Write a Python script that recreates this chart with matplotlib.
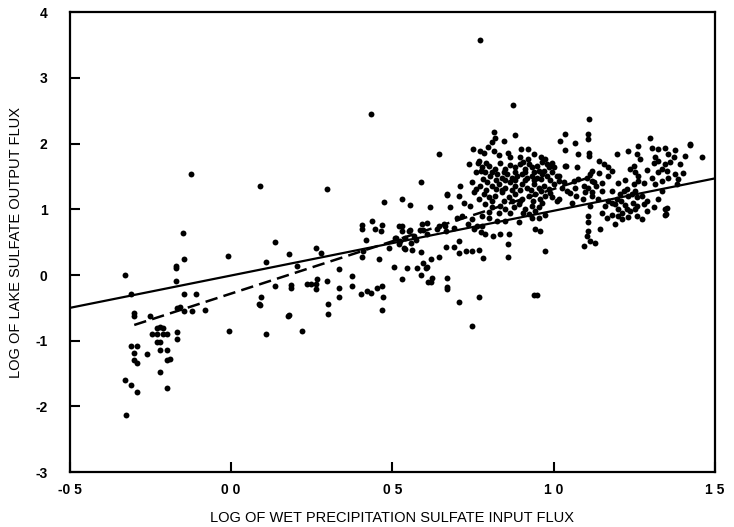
import matplotlib
matplotlib.use("Agg")
import matplotlib.pyplot as plt

# data (log wet input flux, log lake output flux)
left_pts = [
    (-0.33, 0.00), (-0.31, -0.29), (-0.30, -0.58), (-0.30, -0.62), (-0.25, -0.62),
    (-0.31, -1.08), (-0.29, -1.08), (-0.30, -1.19), (-0.30, -1.30), (-0.29, -1.34),
    (-0.33, -1.60), (-0.31, -1.68), (-0.29, -1.78), (-0.325, -2.13), (-0.26, -1.20),
    (-0.23, -0.81), (-0.22, -0.79), (-0.21, -0.81), (-0.245, -0.90), (-0.23, -0.90),
    (-0.21, -0.90), (-0.20, -0.90), (-0.23, -1.02), (-0.22, -1.02), (-0.22, -1.14),
    (-0.20, -1.14), (-0.20, -1.30), (-0.19, -1.28), (-0.22, -1.48), (-0.20, -1.72),
    (-0.17, 0.14), (-0.17, 0.11), (-0.145, 0.24), (-0.17, -0.09), (-0.145, -0.29),
    (-0.11, -0.29), (-0.167, -0.50), (-0.158, -0.49), (-0.145, -0.55), (-0.12, -0.55),
    (-0.08, -0.53), (-0.167, -0.87), (-0.167, -0.98), (-0.124, 1.54), (-0.149, 0.64),
    (-0.01, 0.29), (-0.006, -0.85), (0.087, -0.44),
]

low_pts = [
    (0.09, 1.36), (0.136, 0.50), (0.108, 0.20), (0.18, 0.32), (0.136, -0.17),
    (0.186, -0.15), (0.186, -0.20), (0.204, 0.14), (0.093, -0.34), (0.09, -0.46),
    (0.176, -0.63), (0.108, -0.90), (0.22, -0.85), (0.235, -0.14), (0.297, 1.31),
    (0.263, 0.41), (0.279, 0.34), (0.334, 0.09), (0.297, -0.09), (0.266, -0.06),
    (0.263, -0.14), (0.263, -0.21), (0.248, -0.14), (0.30, -0.44), (0.30, -0.59),
    (0.18, -0.61),
]

mid_pts = [
    (0.433, 2.45), (0.771, 3.57), (0.873, 2.59),
    (0.588, 1.42), (0.474, 1.11), (0.53, 1.16), (0.554, 1.07), (0.616, 1.04), (0.669, 1.22),
    (0.406, 0.76), (0.406, 0.70), (0.437, 0.82), (0.446, 0.70), (0.467, 0.76), (0.464, 0.67),
    (0.418, 0.53), (0.409, 0.37), (0.406, 0.27), (0.458, 0.24),
    (0.489, 0.41), (0.508, 0.56), (0.523, 0.52), (0.529, 0.75), (0.551, 0.67), (0.585, 0.69),
    (0.591, 0.78), (0.607, 0.79), (0.536, 0.41), (0.56, 0.38), (0.588, 0.35),
    (0.505, 0.12), (0.545, 0.11), (0.576, 0.11), (0.604, 0.11), (0.588, 0.0), (0.529, -0.06),
    (0.61, -0.11), (0.375, -0.02), (0.334, -0.20), (0.334, -0.34), (0.375, -0.17),
    (0.402, -0.29), (0.421, -0.24), (0.433, -0.27), (0.452, -0.20), (0.467, -0.17),
    (0.471, -0.34), (0.467, -0.53),
    (0.52, 0.75), (0.53, 0.67), (0.539, 0.56), (0.554, 0.69), (0.594, 0.69), (0.607, 0.63),
    (0.638, 0.70), (0.663, 0.75), (0.666, 0.67),
    (0.511, 0.56), (0.52, 0.47), (0.539, 0.40), (0.557, 0.49), (0.573, 0.53), (0.567, 0.59),
    (0.607, 0.12), (0.619, 0.24), (0.644, 0.27), (0.594, 0.18), (0.622, -0.05), (0.619, -0.11),
    (0.669, -0.05), (0.669, -0.18), (0.669, -0.21),
]

dense_pts = [
    (0.814, 2.17), (0.819, 2.09), (0.879, 2.13), (0.847, 2.04), (0.809, 2.02), (1.019, 2.04),
    (0.750, 1.92), (0.773, 1.88), (0.796, 1.95), (0.814, 1.89), (0.900, 1.92), (0.921, 1.92),
    (0.644, 1.84), (0.866, 1.79), (0.897, 1.79), (0.921, 1.76), (0.974, 1.76),
    (0.737, 1.69), (0.768, 1.73), (0.778, 1.64), (0.799, 1.66), (0.819, 1.61), (0.850, 1.61),
    (0.881, 1.64), (0.897, 1.69), (0.912, 1.61), (0.933, 1.64), (0.948, 1.66), (0.954, 1.59),
    (0.979, 1.69), (0.995, 1.71), (1.000, 1.64), (1.036, 1.66),
    (0.758, 1.56), (0.788, 1.56), (0.804, 1.51), (0.825, 1.53), (0.840, 1.48), (0.856, 1.53),
    (0.871, 1.48), (0.887, 1.51), (0.902, 1.53), (0.917, 1.48), (0.933, 1.51), (0.948, 1.48),
    (0.964, 1.53), (0.979, 1.51), (0.995, 1.56), (1.010, 1.51), (1.016, 1.43),
    (0.711, 1.36), (0.747, 1.41), (0.773, 1.36), (0.794, 1.41), (0.809, 1.36), (0.830, 1.38),
    (0.850, 1.33), (0.866, 1.41), (0.881, 1.36), (0.902, 1.38), (0.917, 1.33), (0.938, 1.38),
    (0.954, 1.33), (0.969, 1.36), (0.985, 1.31), (1.000, 1.38), (1.026, 1.33),
    (0.670, 1.23), (0.706, 1.20), (0.752, 1.26), (0.783, 1.23), (0.799, 1.18), (0.819, 1.20),
    (0.840, 1.26), (0.861, 1.18), (0.881, 1.23), (0.902, 1.15), (0.923, 1.20), (0.943, 1.23),
    (0.959, 1.15), (0.974, 1.20), (0.995, 1.18), (1.010, 1.13),
    (0.721, 1.10), (0.680, 1.03), (0.742, 1.05), (0.788, 1.08), (0.809, 1.03), (0.835, 1.05),
    (0.850, 1.00), (0.876, 1.03), (0.892, 1.08), (0.912, 1.00), (0.933, 1.05), (0.954, 1.03),
    (0.974, 0.92), (0.943, 0.98),
    (0.701, 0.87), (0.716, 0.90), (0.747, 0.85), (0.778, 0.90), (0.799, 0.87), (0.825, 0.82),
    (0.850, 0.82), (0.892, 0.80), (0.933, 0.87), (0.954, 0.87),
    (0.659, 0.77), (0.644, 0.75), (0.690, 0.72), (0.735, 0.77), (0.763, 0.75), (0.778, 0.75),
    (0.752, 0.70), (0.776, 0.66), (0.788, 0.62), (0.811, 0.59), (0.835, 0.63), (0.861, 0.63),
    (0.943, 0.70), (0.959, 0.67),
    (0.667, 0.42), (0.690, 0.43), (0.706, 0.52), (0.706, 0.34), (0.727, 0.37), (0.747, 0.37),
    (0.768, 0.38), (0.780, 0.26), (0.859, 0.47), (0.859, 0.27), (0.974, 0.37),
    (0.706, -0.41), (0.768, -0.34), (0.746, -0.78), (0.938, -0.30), (0.947, -0.30),
]

# overlapping dots inside the black core of the main cluster
dense_core = [
    (0.785, 1.85), (0.83, 1.83), (0.86, 1.86), (0.94, 1.84), (0.96, 1.80),
    (0.765, 1.70), (0.79, 1.71), (0.835, 1.70), (0.865, 1.67), (0.905, 1.72), (0.925, 1.69),
    (0.965, 1.72), (0.985, 1.64),
    (0.775, 1.58), (0.81, 1.57), (0.845, 1.57), (0.88, 1.56), (0.91, 1.56), (0.94, 1.56),
    (0.97, 1.58),
    (0.78, 1.46), (0.82, 1.45), (0.85, 1.44), (0.88, 1.44), (0.91, 1.45), (0.94, 1.44),
    (0.96, 1.46), (0.99, 1.45),
    (0.76, 1.31), (0.79, 1.30), (0.82, 1.31), (0.84, 1.30), (0.87, 1.30), (0.895, 1.30),
    (0.93, 1.29), (0.96, 1.28), (0.99, 1.25),
    (0.77, 1.16), (0.81, 1.13), (0.845, 1.12), (0.87, 1.12), (0.895, 1.12), (0.935, 1.12),
    (0.965, 1.10),
    (0.80, 0.96), (0.83, 0.95), (0.865, 0.94), (0.905, 0.95), (0.925, 0.93),
]

right_pts = [
    (1.111, 2.37), (1.036, 2.15), (1.065, 2.01), (1.034, 1.90), (1.106, 2.15), (1.106, 2.07),
    (1.110, 1.86), (1.110, 1.81), (1.075, 1.84), (1.038, 1.66), (1.072, 1.64),
    (1.141, 1.74), (1.155, 1.69), (1.170, 1.64), (1.181, 1.59),
    (1.196, 1.84), (1.232, 1.89), (1.263, 1.97), (1.258, 1.84), (1.268, 1.76), (1.248, 1.66),
    (1.237, 1.61), (1.253, 1.56), (1.263, 1.51), (1.263, 1.43), (1.248, 1.38), (1.253, 1.28),
    (1.300, 2.09),
    (1.304, 1.94), (1.325, 1.92), (1.346, 1.94), (1.377, 1.90), (1.356, 1.84), (1.315, 1.79),
    (1.325, 1.74), (1.346, 1.69), (1.335, 1.61), (1.325, 1.56), (1.351, 1.59), (1.372, 1.79),
    (1.392, 1.69), (1.406, 1.81), (1.423, 1.98), (1.377, 1.53), (1.304, 1.48), (1.315, 1.38),
    (1.335, 1.43), (1.335, 1.28), (1.356, 1.48), (1.382, 1.39), (1.387, 1.46),
    (1.424, 2.00), (1.461, 1.80),
    (1.119, 1.59), (1.114, 1.53), (1.103, 1.48), (1.119, 1.43), (1.124, 1.41),
    (1.016, 1.51), (1.031, 1.41), (1.041, 1.28), (1.062, 1.43), (1.067, 1.33), (1.077, 1.46),
    (1.093, 1.36), (1.098, 1.26), (1.108, 1.33), (1.119, 1.26), (1.119, 1.20), (1.150, 1.28),
    (1.057, 1.10), (1.016, 1.15), (1.114, 1.05), (1.139, 1.15), (1.170, 1.13), (1.181, 1.28),
    (1.196, 1.15), (1.206, 1.23), (1.217, 1.28), (1.227, 1.31), (1.232, 1.20), (1.243, 1.24),
    (1.258, 1.18), (1.274, 1.20), (1.289, 1.13), (1.310, 1.03), (1.325, 1.15), (1.346, 1.00),
    (1.191, 1.08), (1.201, 1.00), (1.212, 0.95), (1.227, 1.00), (1.237, 0.98), (1.253, 1.00),
    (1.258, 0.90), (1.274, 0.85), (1.181, 0.92), (1.165, 0.87), (1.150, 0.95), (1.191, 0.77),
    (1.212, 0.85), (1.346, 0.92), (1.353, 1.02), (1.347, 0.93),
    (1.106, 0.90), (1.108, 0.80), (1.108, 0.67), (1.103, 0.59), (1.114, 0.52), (1.093, 0.44),
    (1.129, 0.49), (1.145, 0.70),
    (1.16, 1.05), (1.18, 1.10), (1.21, 1.12), (1.22, 1.06), (1.245, 1.10), (1.26, 1.05),
    (1.28, 1.08), (1.29, 0.98), (1.20, 0.90), (1.23, 0.88), (1.15, 1.40), (1.17, 1.50),
    (1.20, 1.40), (1.22, 1.45), (1.28, 1.40), (1.29, 1.60), (1.31, 1.70), (1.36, 1.72),
    (1.40, 1.55), (1.05, 1.25), (1.07, 1.20), (1.09, 1.15), (1.13, 1.35), (1.14, 1.55),
]

# regression lines (end points)
solid_x = [-0.5, 1.5]
solid_y = [-0.50, 1.47]
dash_x = [-0.30, 1.12]
dash_y = [-0.76, 1.50]

xticks = [-0.5, 0.0, 0.5, 1.0, 1.5]
xtick_labels = ["-0 5", "0 0", "0 5", "1 0", "1 5"]
yticks = [-3, -2, -1, 0, 1, 2, 3, 4]

plt.rcParams['font.family'] = ['Liberation Sans', 'DejaVu Sans']
plt.rcParams['axes.unicode_minus'] = False

fig = plt.figure(figsize=(7.34, 5.27), dpi=100)
ax = fig.add_axes([0.095, 0.104, 0.879, 0.873])

all_pts = left_pts + low_pts + mid_pts + dense_pts + dense_core + right_pts
xs = [p[0] for p in all_pts]
ys = [p[1] for p in all_pts]
ax.scatter(xs, ys, s=18, color='black', linewidths=0, zorder=3)

ax.plot(solid_x, solid_y, color='black', lw=1.6, zorder=2)
ax.plot(dash_x, dash_y, color='black', lw=1.8, linestyle=(0, (5, 2.5)), zorder=2)

ax.set_xlim(-0.5, 1.5)
ax.set_ylim(-3, 4)
ax.set_xticks(xticks)
ax.set_xticklabels(xtick_labels)
ax.set_yticks(yticks)
ax.tick_params(direction='in', length=7, width=1.5, labelsize=10)
ax.tick_params(axis='y', pad=16)
ax.tick_params(axis='x', pad=8)
for lbl in ax.get_xticklabels() + ax.get_yticklabels():
    lbl.set_fontweight('bold')
for sp in ax.spines.values():
    sp.set_linewidth(1.6)

ax.set_xlabel("LOG OF WET PRECIPITATION SULFATE INPUT FLUX", fontsize=10.5, labelpad=10)
ax.set_ylabel("LOG OF LAKE SULFATE OUTPUT FLUX", fontsize=10.5, labelpad=9)

fig.savefig("out.png", dpi=100)
